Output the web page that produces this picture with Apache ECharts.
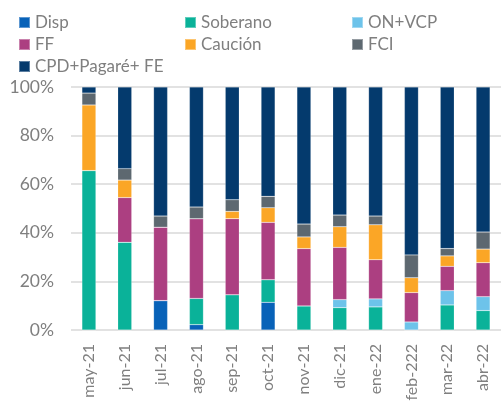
<!DOCTYPE html>
<html>
<head>
<meta charset="utf-8">
<script src="https://cdn.jsdelivr.net/npm/echarts@6/dist/echarts.min.js"></script>
<style>
  html, body { margin: 0; padding: 0; background: #fff; }
  #chart { width: 501px; height: 405px; }
</style>
</head>
<body>
<div id="chart"></div>
<script>
// meses
const months = ['may-21', 'jun-21', 'jul-21', 'ago-21', 'sep-21', 'oct-21',
  'nov-21', 'dic-21', 'ene-22', 'feb-222', 'mar-22', 'abr-22'];

// participación (%) por instrumento
const disp      = [0,    0,    12.1, 2.2,  0,    11.4, 0,    0,    0,    0,    0,    0];
const soberano  = [65.6, 36.1, 0,    10.8, 14.5, 9.3,  9.9,  9.2,  9.5,  0,    10.3, 8.0];
const onVcp     = [0,    0,    0,    0,    0,    0,    0,    3.3,  3.3,  3.3,  5.9,  5.7];
const ff        = [0,    18.4, 30.2, 32.8, 31.3, 23.6, 23.6, 21.5, 16.1, 12.1, 10.0, 14.0];
const caucion   = [27.0, 7.2,  0,    0,    3.0,  6.0,  4.8,  8.5,  14.4, 6.1,  4.3,  5.6];
const fci       = [4.9,  4.7,  4.6,  4.8,  4.8,  4.7,  5.3,  4.8,  3.6,  9.4,  3.0,  7.0];
const cpd       = [2.5,  33.6, 53.1, 49.4, 46.4, 45.0, 56.4, 52.7, 53.1, 69.1, 66.5, 59.7];

const yTicks = [0, 20, 40, 60, 80, 100];

const seriesDefs = [
  { name: 'Disp', data: disp, color: '#0862B8' },
  { name: 'Soberano', data: soberano, color: '#0AB299' },
  { name: 'ON+VCP', data: onVcp, color: '#6DC3EA' },
  { name: 'FF', data: ff, color: '#AC3F81' },
  { name: 'Caución', data: caucion, color: '#FBA626' },
  { name: 'FCI', data: fci, color: '#5D6870' },
  { name: 'CPD+Pagaré+ FE', data: cpd, color: '#043A6D' }
];

const legendText = { color: '#7f7f7f', fontSize: 17, fontFamily: 'Lato' };
const legendBase = {
  orient: 'vertical',
  top: 9,
  itemWidth: 11,
  itemHeight: 11,
  itemGap: 5,
  icon: 'rect',
  textStyle: legendText,
  selectedMode: false
};

const chart = echarts.init(document.getElementById('chart'));
chart.setOption({
  animation: false,
  textStyle: { fontFamily: 'Lato' },
  legend: [
    Object.assign({ left: 13, data: ['Disp', 'FF', 'CPD+Pagaré+ FE'] }, legendBase),
    Object.assign({ left: 179, data: ['Soberano', 'Caución'] }, legendBase),
    Object.assign({ left: 346, data: ['ON+VCP', 'FCI'] }, legendBase)
  ],
  grid: { left: 71, right: -4, top: 87, bottom: 75 },
  xAxis: {
    type: 'category',
    data: months,
    axisLine: { show: false },
    axisTick: { show: false },
    axisLabel: { rotate: 90, color: '#7f7f7f', fontSize: 16, margin: 14, interval: 0 }
  },
  yAxis: {
    type: 'value',
    min: yTicks[0],
    max: yTicks[yTicks.length - 1],
    interval: 20,
    axisLabel: { formatter: '{value}%', color: '#7f7f7f', fontSize: 17.5, margin: 17 },
    splitLine: { lineStyle: { color: '#d9d9d9', width: 1.5 } }
  },
  series: seriesDefs.map(s => ({
    name: s.name,
    type: 'bar',
    stack: 'total',
    barWidth: 14,
    data: s.data,
    itemStyle: { color: s.color, borderColor: 'rgba(255,255,255,0.35)', borderWidth: 0.5 }
  }))
});
</script>
</body>
</html>
